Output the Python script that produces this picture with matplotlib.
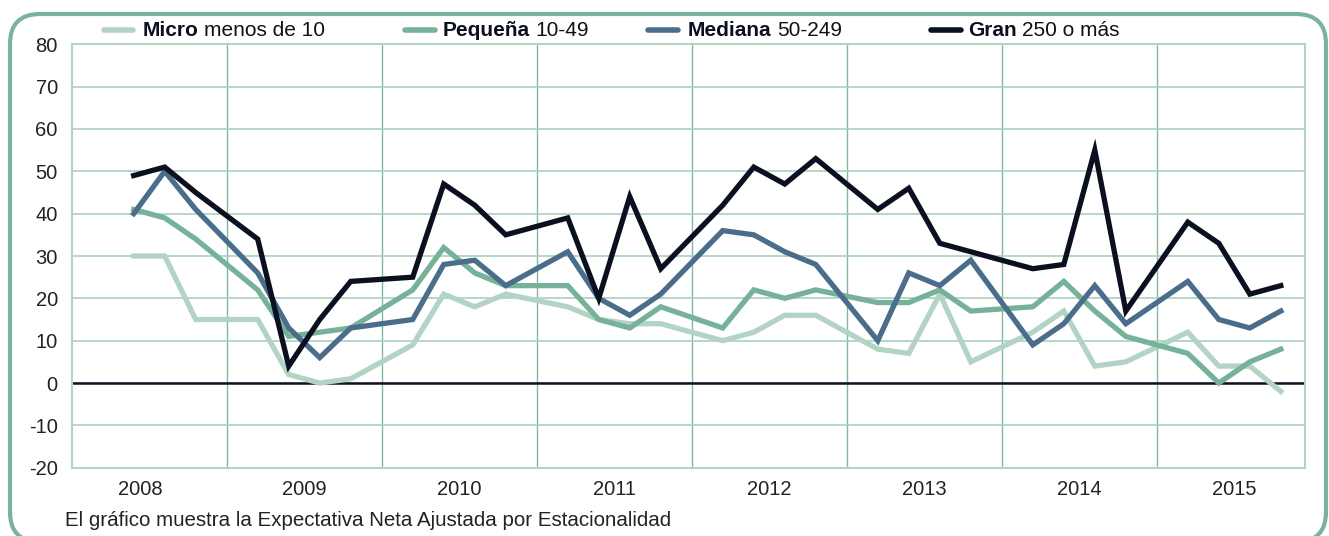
#!/usr/bin/env python3
"""Expectativa neta de empleo por tamaño de empresa, 2008-2015."""

import matplotlib
matplotlib.use("Agg")
import matplotlib.pyplot as plt
from matplotlib.lines import Line2D
from matplotlib.patches import FancyBboxPatch
from matplotlib.transforms import IdentityTransform

plt.rcParams["font.family"] = ["Liberation Sans", "DejaVu Sans"]
plt.rcParams["axes.unicode_minus"] = False

# Data: quarterly values, 2008 starts in Q2
years = [2008, 2009, 2010, 2011, 2012, 2013, 2014, 2015]
first_quarter = 2  # first quarter with data in 2008

micro = [30, 30, 15,
         15, 2, 0, 1,
         9, 21, 18, 21,
         18, 15, 14, 14,
         10, 12, 16, 16,
         8, 7, 21, 5,
         12, 17, 4, 5,
         12, 4, 4, -2]
pequena = [41, 39, 34,
           22, 11, 12, 13,
           22, 32, 26, 23,
           23, 15, 13, 18,
           13, 22, 20, 22,
           19, 19, 22, 17,
           18, 24, 17, 11,
           7, 0, 5, 8]
mediana = [40, 50, 41,
           26, 13, 6, 13,
           15, 28, 29, 23,
           31, 20, 16, 21,
           36, 35, 31, 28,
           10, 26, 23, 29,
           9, 14, 23, 14,
           24, 15, 13, 17]
gran = [49, 51, 45,
        34, 4, 15, 24,
        25, 47, 42, 35,
        39, 20, 44, 27,
        42, 51, 47, 53,
        41, 46, 33, 31,
        27, 28, 55, 17,
        38, 33, 21, 23]

series = [
    ("Micro", "menos de 10", micro, "#b3d4c4"),
    ("Pequeña", "10-49", pequena, "#76b19a"),
    ("Mediana", "50-249", mediana, "#4a6d8b"),
    ("Gran", "250 o más", gran, "#0b1020"),
]


def main():
    W, H = 1329, 536
    fig = plt.figure(figsize=(W / 100, H / 100), dpi=100)
    fig.patch.set_facecolor("white")

    # Category axis: 5 slots per year, slot 0 of each year left empty
    xs = []
    for i, y in enumerate(years):
        for q in range(1, 5):
            if i == 0 and q < first_quarter:
                continue
            xs.append(5 * i + q)

    ax = fig.add_axes([71.7 / W, 1 - 467.7 / H, (1305 - 71.7) / W, (467.7 - 44.3) / H])
    ax.set_xlim(0, 39.78)
    ax.set_ylim(-20, 80)

    ax.axhline(0, color="#111122", lw=1.8, zorder=2)
    for name, rest, vals, color in series:
        ax.plot(xs, vals, color=color, lw=3.8, zorder=3, solid_joinstyle="miter")

    # Grid
    ax.set_yticks(range(-20, 81, 10))
    ax.yaxis.grid(True, color="#a9d0c1", lw=1.2)
    ax.set_xticks([5 * i for i in range(1, len(years))], minor=True)
    ax.xaxis.grid(True, which="minor", color="#82b8a3", lw=1.0)
    centers = [5 * i + 2.5 for i in range(len(years))]
    centers[0] = 2.2
    ax.set_xticks(centers)
    ax.set_xticklabels([str(y) for y in years])
    ax.set_axisbelow(True)
    ax.tick_params(axis="both", which="both", length=0, labelsize=14.5,
                   labelcolor="#222222")
    ax.tick_params(axis="x", pad=9)
    ax.tick_params(axis="y", pad=10)
    for s in ax.spines.values():
        s.set_color("#b3d4c4")
        s.set_linewidth(1.5)

    # Legend: bold category name followed by the size range
    legend_pos = [(104, 133, 142.7), (405, 435, 443), (648, 678, 688), (931, 961, 968)]
    ly = 1 - 30 / H
    for (name, rest, vals, color), (h0, h1, tx) in zip(series, legend_pos):
        fig.add_artist(Line2D([h0 / W, h1 / W], [ly, ly], transform=fig.transFigure,
                              color=color, lw=4, solid_capstyle="round"))
        t = fig.text(tx / W, ly, name, fontsize=15, fontweight="bold",
                     color="#0b1020", va="center", ha="left")
        fig.add_artist(plt.Annotation(rest, xy=(1, 0), xycoords=t,
                                      xytext=(4, 0), textcoords="offset points",
                                      fontsize=15, color="#111111",
                                      va="bottom", ha="left"))

    fig.text(65 / W, 1 - 520 / H,
             "El gráfico muestra la Expectativa Neta Ajustada por Estacionalidad",
             fontsize=14.8, color="#222222", va="center", ha="left")

    # Rounded frame around the whole chart (pixel coordinates)
    frame = FancyBboxPatch((10, -6), 1316, 528,
                           boxstyle="round,pad=0,rounding_size=30",
                           transform=IdentityTransform(), fill=False,
                           edgecolor="#7ab39b", lw=3.0)
    fig.patches.append(frame)

    fig.savefig("out.png", dpi=100)


if __name__ == "__main__":
    main()
